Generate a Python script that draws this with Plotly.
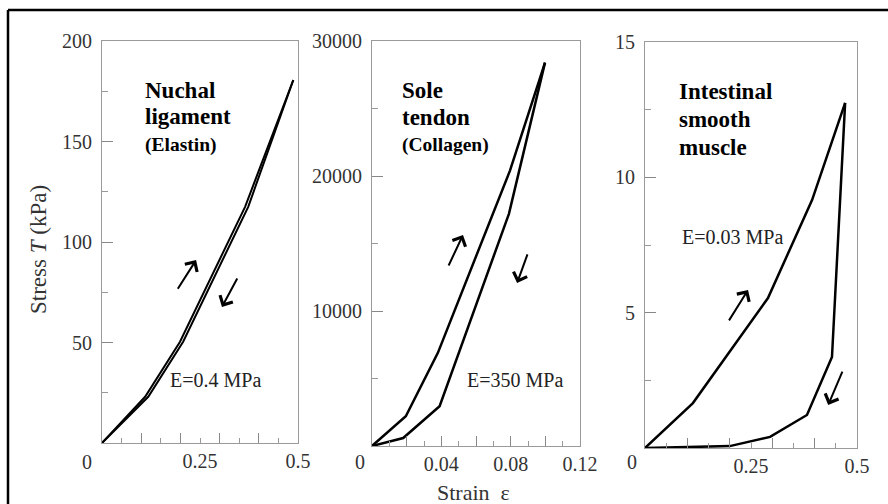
import plotly.graph_objects as go

# ---------------- data ----------------
# Panel 1: Nuchal ligament (Elastin), strain vs stress (kPa)
nuchal_load_x = [0.0, 0.110, 0.199, 0.365, 0.488]
nuchal_load_y = [0.0, 23.0, 50.4, 117.5, 180.6]
nuchal_unload_x = [0.488, 0.373, 0.207, 0.118, 0.0]
nuchal_unload_y = [180.6, 117.5, 50.4, 23.0, 0.0]

# Panel 2: Sole tendon (Collagen)
sole_load_x = [0.0, 0.0195, 0.038, 0.0796, 0.0998]
sole_load_y = [0.0, 2200.0, 6900.0, 20400.0, 28400.0]
sole_unload_x = [0.0998, 0.079, 0.039, 0.018, 0.0]
sole_unload_y = [28400.0, 17200.0, 2950.0, 590.0, 0.0]

# Panel 3: Intestinal smooth muscle
muscle_load_x = [0.0, 0.113, 0.290, 0.394, 0.472]
muscle_load_y = [0.0, 1.66, 5.54, 9.16, 12.75]
muscle_unload_x = [0.472, 0.441, 0.382, 0.295, 0.200, 0.0]
muscle_unload_y = [12.75, 3.36, 1.22, 0.41, 0.07, 0.0]

# Direction arrows (tail -> head) in data units
nuchal_arrows = [((0.191, 76.0), (0.240, 91.0)), ((0.347, 82.6), (0.306, 67.7))]
sole_arrows = [((0.0438, 13260.0), (0.0525, 15630.0)), ((0.090, 14300.0), (0.0837, 12070.0))]
muscle_arrows = [((0.196, 4.66), (0.243, 5.84)), ((0.467, 2.88), (0.432, 1.59))]

# Axis ranges and ticks
x_ranges = [[0, 0.5], [0, 0.12], [0, 0.5]]
y_ranges = [[0, 200], [0, 30000], [0, 15]]
x_major = [[0.1, 0.2, 0.3, 0.4], [0.02, 0.04, 0.06, 0.08, 0.10], [0.1, 0.2, 0.3, 0.4]]
x_minor = [[0.05, 0.15, 0.25, 0.35, 0.45], [0.01, 0.03, 0.05, 0.07, 0.09, 0.11], [0.05, 0.15, 0.25, 0.35, 0.45]]
x_labels = [[0.25, 0.5], [0.04, 0.08, 0.12], [0.25, 0.5]]
y_major = [[50, 100, 150, 200], [10000, 20000, 30000], [5, 10, 15]]
y_minor = [[25, 75, 125, 175], [5000, 15000, 25000], [2.5, 7.5, 12.5]]

panel_titles = [["Nuchal", "ligament"], ["Sole", "tendon"], ["Intestinal", "smooth", "muscle"]]
panel_subtitles = ["(Elastin)", "(Collagen)", None]
modulus_texts = ["E=0.4 MPa", "E=350 MPa", "E=0.03 MPa"]

# ---------------- layout geometry (pixels) ----------------
W, H = 888, 504
px_x = [(102, 298), (372, 580), (645, 857)]
px_y = [(41, 443), (41, 446), (42, 448)]

def xdom(i):
    return [px_x[i][0] / W, px_x[i][1] / W]

def ydom(i):
    return [1 - px_y[i][1] / H, 1 - px_y[i][0] / H]

SERIF = "Liberation Serif"
fig = go.Figure()

series = [
    (nuchal_load_x, nuchal_load_y, nuchal_unload_x, nuchal_unload_y),
    (sole_load_x, sole_load_y, sole_unload_x, sole_unload_y),
    (muscle_load_x, muscle_load_y, muscle_unload_x, muscle_unload_y),
]
widths = [2.0, 2.5, 2.5]
for i, (lx, ly, ux, uy) in enumerate(series):
    xa = "x" if i == 0 else f"x{i+1}"
    ya = "y" if i == 0 else f"y{i+1}"
    for xs, ys, nm in [(lx, ly, "loading"), (ux, uy, "unloading")]:
        fig.add_trace(go.Scatter(x=xs, y=ys, mode="lines", name=nm, xaxis=xa, yaxis=ya,
                                 line=dict(color="black", width=widths[i]), showlegend=False,
                                 hoverinfo="skip"))
    # empty placeholder trace so the overlay label axis is drawn
    fig.add_trace(go.Scatter(x=[None], y=[None], mode="lines", xaxis=f"x{i+4}", yaxis=ya,
                             showlegend=False, hoverinfo="skip"))

layout = dict(width=W, height=H, margin=dict(l=0, r=0, t=0, b=0, pad=0, autoexpand=False),
              paper_bgcolor="white", plot_bgcolor="white", showlegend=False)

tickfont = dict(family=SERIF, size=20, color="#333")
for i in range(3):
    sx = "" if i == 0 else str(i + 1)
    yid = "y" if i == 0 else f"y{i+1}"
    xid = "x" if i == 0 else f"x{i+1}"
    layout[f"xaxis{sx}"] = dict(
        domain=xdom(i), range=x_ranges[i], anchor=yid, automargin=False,
        showline=True, mirror=True, linecolor="#9a9a9a", linewidth=1,
        ticks="inside", tickmode="array", tickvals=x_major[i], ticklen=10,
        tickcolor="#888", tickwidth=1, showticklabels=False,
        minor=dict(ticks="inside", tickmode="array", tickvals=x_minor[i], ticklen=5,
                   tickcolor="#999", tickwidth=1, showgrid=False),
        showgrid=False, zeroline=False, fixedrange=True)
    layout[f"yaxis{sx}"] = dict(
        domain=ydom(i), range=y_ranges[i], anchor=xid, automargin=False,
        showline=True, mirror=True, linecolor="#9a9a9a", linewidth=1,
        ticks="inside", tickmode="array", tickvals=y_major[i], ticklen=11,
        tickcolor="#888", tickwidth=1, tickformat="d", tickfont=tickfont,
        ticklabelstandoff=5,
        minor=dict(ticks="inside", tickmode="array", tickvals=y_minor[i], ticklen=6,
                   tickcolor="#999", tickwidth=1, showgrid=False),
        showgrid=False, zeroline=False, fixedrange=True)
    # overlay axis carrying the x tick labels
    k = i + 4
    layout[f"xaxis{k}"] = dict(
        domain=xdom(i), range=x_ranges[i], anchor=yid, overlaying=xid, side="bottom",
        automargin=False,
        showline=False, ticks="", tickmode="array", tickvals=x_labels[i],
        ticktext=[f"{v:g}" for v in x_labels[i]], tickfont=tickfont,
        ticklabelstandoff=4, showgrid=False, zeroline=False, fixedrange=True)

annotations = []
shapes = []
all_arrows = [nuchal_arrows, sole_arrows, muscle_arrows]
title_pos = [(0.209, [0.878, 0.811], 0.741), (0.135, [0.879, 0.812], 0.743),
             (0.151, [0.877, 0.810, 0.741], None)]
mod_pos = [(0.337, 0.157), (0.447, 0.163), (0.165, 0.520)]
zero_shift = [(-15, -19), (-12, -16), (-13, -14)]
for i in range(3):
    xid = "x" if i == 0 else f"x{i+1}"
    yid = "y" if i == 0 else f"y{i+1}"
    for (tx, ty), (hx, hy) in all_arrows[i]:
        annotations.append(dict(x=hx, y=hy, ax=tx, ay=ty, xref=xid, yref=yid,
                                axref=xid, ayref=yid, text="", showarrow=True,
                                arrowhead=4, arrowsize=1.4, arrowwidth=2, arrowcolor="black"))
    tx0, tys, sub_y = title_pos[i]
    for line, yy in zip(panel_titles[i], tys):
        annotations.append(dict(x=tx0, y=yy, xref=f"{xid} domain", yref=f"{yid} domain",
                                text=f"<b>{line}</b>", showarrow=False, xanchor="left",
                                yanchor="middle", font=dict(family=SERIF, size=23, color="black")))
    if panel_subtitles[i]:
        annotations.append(dict(x=tx0, y=sub_y, xref=f"{xid} domain", yref=f"{yid} domain",
                                text=f"<b>{panel_subtitles[i]}</b>", showarrow=False,
                                xanchor="left", yanchor="middle",
                                font=dict(family=SERIF, size=19.5, color="black")))
    mx, my = mod_pos[i]
    annotations.append(dict(x=mx, y=my, xref=f"{xid} domain", yref=f"{yid} domain",
                            text=modulus_texts[i], showarrow=False, xanchor="left",
                            yanchor="middle", font=dict(family=SERIF, size=20, color="#222")))
    # "0" origin label
    zx, zy = zero_shift[i]
    annotations.append(dict(x=0, y=0, xref=xid, yref=yid, text="0", showarrow=False,
                            xanchor="center", yanchor="middle",
                            xshift=zx, yshift=zy, font=tickfont))

# axis titles
annotations.append(dict(x=38 / W, y=1 - 250 / H, xref="paper", yref="paper",
                        xanchor="center", yanchor="middle",
                        text="Stress <i>T</i> (kPa)", textangle=-90, showarrow=False,
                        font=dict(family=SERIF, size=23, color="#333")))
annotations.append(dict(x=473 / W, y=1 - 492 / H, xref="paper", yref="paper",
                        xanchor="center", yanchor="middle",
                        text="Strain  ε", showarrow=False,
                        font=dict(family=SERIF, size=22, color="#333")))

# outer frame (top and left edges)
shapes.append(dict(type="line", xref="paper", yref="paper", x0=8 / W, x1=1.0,
                   y0=1 - 10 / H, y1=1 - 10 / H, line=dict(color="black", width=2.5)))
shapes.append(dict(type="line", xref="paper", yref="paper", x0=8 / W, x1=8 / W,
                   y0=0, y1=1 - 10 / H, line=dict(color="black", width=2.5)))

layout["annotations"] = annotations
layout["shapes"] = shapes
fig.update_layout(**layout)
fig.write_html("out.html")
